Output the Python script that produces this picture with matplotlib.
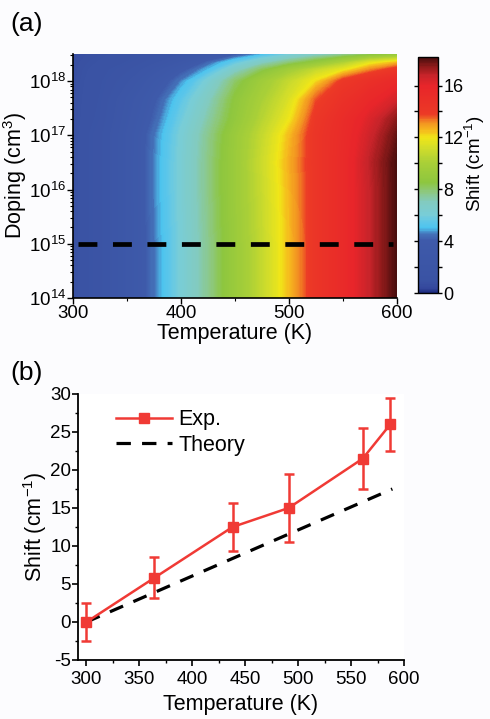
import numpy as np
import matplotlib
matplotlib.use("Agg")
import matplotlib.pyplot as plt
from matplotlib.colors import LinearSegmentedColormap
from matplotlib.ticker import MultipleLocator, LogLocator, NullFormatter, FixedLocator

plt.rcParams['font.family'] = ['Liberation Sans', 'DejaVu Sans']
plt.rcParams['mathtext.fontset'] = 'custom'
plt.rcParams['mathtext.rm'] = 'Liberation Sans'
plt.rcParams['mathtext.it'] = 'Liberation Sans:italic'
plt.rcParams['mathtext.bf'] = 'Liberation Sans:bold'
plt.rcParams['mathtext.default'] = 'regular'
plt.rcParams['axes.unicode_minus'] = False

# ---------------- data: panel (a) heat map ----------------
temps_a = [300, 325, 350, 375, 400, 425, 450, 475, 500, 525, 550, 575, 600]
log_doping = [14.0, 15.0, 16.0, 16.5, 17.0, 17.3, 17.66, 18.0, 18.21, 18.34, 18.5]
shift_map = [
    [0.8, 1.6, 3.0, 4.5, 6.1, 7.6, 9.2, 10.8, 12.5, 14.3, 15.4, 16.8, 18.2],
    [0.8, 1.6, 3.0, 4.5, 6.1, 7.6, 9.2, 10.8, 12.5, 14.3, 15.4, 16.8, 18.2],
    [0.8, 1.6, 3.0, 4.6, 6.2, 7.7, 9.3, 10.9, 12.6, 14.3, 15.4, 16.8, 18.2],
    [0.8, 1.6, 3.0, 4.6, 6.2, 7.7, 9.3, 11.0, 12.7, 14.3, 15.4, 16.9, 18.2],
    [0.8, 1.6, 3.0, 4.5, 6.1, 7.6, 9.2, 10.8, 12.5, 14.3, 15.3, 16.6, 17.9],
    [0.8, 1.4, 2.8, 4.2, 5.8, 7.3, 8.8, 10.4, 11.9, 14.1, 15.2, 16.3, 17.5],
    [0.8, 1.3, 2.6, 3.9, 5.4, 6.9, 8.6, 10.0, 11.4, 13.6, 14.7, 15.6, 16.5],
    [0.8, 1.2, 2.0, 3.3, 4.6, 6.2, 8.0, 9.5, 10.8, 12.1, 14.0, 14.8, 15.5],
    [0.8, 1.1, 1.6, 2.6, 3.8, 5.0, 6.7, 8.2, 9.6, 10.8, 11.8, 13.2, 14.2],
    [0.8, 1.0, 1.3, 2.0, 3.0, 4.3, 5.6, 6.9, 7.9, 8.9, 10.2, 11.7, 12.6],
    [0.8, 0.9, 1.1, 1.5, 2.1, 2.9, 3.8, 4.8, 5.8, 6.6, 7.3, 8.0, 8.6],
]
cut_T = [305, 596]
cut_doping = 1e15
shift_min, shift_max = 0.0, 18.2
cbar_ticks = [0, 4, 8, 12, 16]

# ---------------- data: panel (b) ----------------
exp_T = [300, 364, 438, 491, 561, 587]
exp_shift = [0.0, 5.8, 12.5, 15.0, 21.5, 26.0]
exp_err = [2.5, 2.7, 3.1, 4.5, 4.0, 3.5]
theory_T = [300, 589]
theory_shift = [0.0, 17.5]

# ---------------- colormap (Origin-like rainbow) ----------------
cstops = [
    (0.0, '#1c2a7e'), (0.3, '#34479c'), (1.0, '#3a53a4'), (4.0, '#3e5aaa'),
    (4.5, '#4470b8'), (5.0, '#4cc4ee'), (5.4, '#5cc6ea'), (6.0, '#78cdd8'),
    (7.0, '#82cbc0'), (7.8, '#8dc880'), (8.5, '#8dc63f'), (10.0, '#a8cf38'),
    (11.2, '#d2dd2a'), (12.0, '#f0e618'), (12.6, '#f6b61e'), (13.2, '#f28c22'),
    (13.8, '#ec3a26'), (16.0, '#e8252a'), (16.8, '#c8242a'), (17.5, '#8e1a1a'),
    (18.2, '#4a0e0e'),
]
cmap = LinearSegmentedColormap.from_list(
    'origin_rainbow', [((v - shift_min) / (shift_max - shift_min), c) for v, c in cstops])

W, H = 490, 719
fig = plt.figure(figsize=(W / 100, H / 100), dpi=100)
fig.patch.set_facecolor('#fcfcfe')

def frac(x0, y0, x1, y1):
    return [x0 / W, 1 - y1 / H, (x1 - x0) / W, (y1 - y0) / H]

FS_TICK = 13.5
FS_LAB = 15.5

# ---------------- panel (a) ----------------
ax1 = fig.add_axes(frac(73, 54, 397, 298))
Tg, Ng = np.meshgrid(temps_a, 10.0 ** np.array(log_doping))
levels = np.linspace(shift_min, shift_max, 300)
cs = ax1.contourf(Tg, Ng, np.array(shift_map), levels=levels, cmap=cmap,
                  vmin=shift_min, vmax=shift_max, antialiased=False)
ax1.set_yscale('log')
ax1.set_xlim(300, 600)
ax1.set_ylim(1e14, 10 ** 18.5)
ax1.plot(cut_T, [cut_doping, cut_doping], color='black', lw=3.4,
         linestyle=(0, (4.0, 3.3)), solid_capstyle='butt', dash_capstyle='butt')
ax1.xaxis.set_major_locator(MultipleLocator(100))
ax1.xaxis.set_minor_locator(MultipleLocator(50))
ax1.yaxis.set_major_locator(LogLocator(base=10, numticks=10))
ax1.yaxis.set_minor_locator(LogLocator(base=10, subs=np.arange(2, 10), numticks=20))
ax1.yaxis.set_minor_formatter(NullFormatter())
ax1.tick_params(axis='both', which='major', direction='out', length=4, width=1,
                labelsize=FS_TICK, pad=1)
ax1.tick_params(axis='both', which='minor', direction='out', length=2.5, width=0.8)
for s in ['top', 'right']:
    ax1.spines[s].set_visible(False)
for s in ['left', 'bottom']:
    ax1.spines[s].set_linewidth(1.2)
ax1.set_xlabel('Temperature (K)', fontsize=FS_LAB, labelpad=1)
ax1.set_ylabel('Doping (cm$^{3}$)', fontsize=FS_LAB, labelpad=0)

cax = fig.add_axes(frac(418, 57, 438, 293))
cb = fig.colorbar(cs, cax=cax, ticks=cbar_ticks)
cb.ax.yaxis.set_minor_locator(FixedLocator([2, 6, 10, 14]))
cb.ax.tick_params(which='major', direction='out', length=3, width=1,
                  labelsize=13, pad=1, left=True, right=True)
cb.ax.tick_params(which='minor', direction='out', length=3, width=1, left=True, right=True)
cb.outline.set_linewidth(1)
cb.set_label('Shift (cm$^{-1}$)', fontsize=13.5)
cb.ax.yaxis.set_label_coords(2.25, 0.55)

fig.text(10 / W, 1 - 24 / H, '(a)', fontsize=19, va='center', ha='left')

# ---------------- panel (b) ----------------
ax2 = fig.add_axes(frac(78, 394, 404, 660))
red = '#f03a35'
eb = ax2.errorbar(exp_T, exp_shift, yerr=exp_err, color=red, lw=1.8, marker='s', ms=7,
                  mec=red, mfc=red, elinewidth=1.8, capsize=3.5, capthick=1.8,
                  zorder=3)
th, = ax2.plot(theory_T, theory_shift, color='black', lw=2.3, linestyle=(0, (4.5, 3.5)),
               zorder=2)
ax2.set_xlim(292, 600)
ax2.set_ylim(-5, 30)
ax2.xaxis.set_major_locator(MultipleLocator(50))
ax2.xaxis.set_minor_locator(MultipleLocator(25))
ax2.yaxis.set_major_locator(MultipleLocator(5))
ax2.yaxis.set_minor_locator(MultipleLocator(2.5))
ax2.tick_params(axis='both', which='major', direction='out', length=4, width=1.2,
                labelsize=FS_TICK, pad=1)
ax2.tick_params(axis='x', which='major', pad=4)
ax2.tick_params(axis='both', which='minor', direction='out', length=2.5, width=1)
for s in ['top', 'right']:
    ax2.spines[s].set_visible(False)
for s in ['left', 'bottom']:
    ax2.spines[s].set_linewidth(1.3)
ax2.set_xlabel('Temperature (K)', fontsize=FS_LAB, labelpad=4)
ax2.set_ylabel('Shift (cm$^{-1}$)', fontsize=FS_LAB, labelpad=1)
ax2.legend([eb[0], th], ['Exp.', 'Theory'], loc='upper left', bbox_to_anchor=(0.09, 0.975),
           frameon=False, fontsize=FS_LAB, handlelength=2.6, handletextpad=0.3,
           borderaxespad=0, labelspacing=0.2)

fig.text(10 / W, 1 - 373 / H, '(b)', fontsize=19, va='center', ha='left')

fig.savefig('out.png', dpi=100, facecolor=fig.get_facecolor())
